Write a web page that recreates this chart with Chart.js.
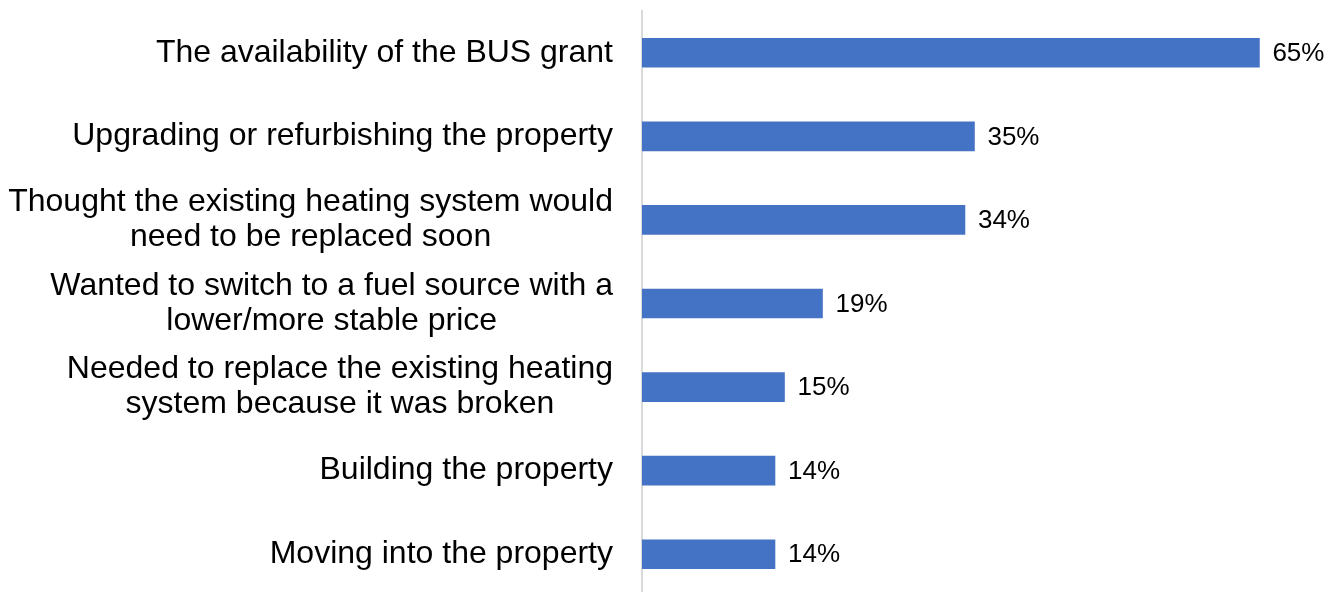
<!DOCTYPE html>
<html>
<head>
<meta charset="utf-8">
<script src="https://cdn.jsdelivr.net/npm/chart.js@4"></script>
<style>
  html, body { margin: 0; padding: 0; background: #fff; overflow: hidden; }
  #wrap { width: 1343px; height: 596px; position: relative; }
</style>
</head>
<body>
<div id="wrap"><canvas id="reasonsChart"></canvas></div>
<script>
// motivations for installing, share of respondents (%)
const categories = [
    'The availability of the BUS grant',
    'Upgrading or refurbishing the property',
    ['Thought the existing heating system would', 'need to be replaced soon'],
    ['Wanted to switch to a fuel source with a', 'lower/more stable price'],
    ['Needed to replace the existing heating', 'system because it was broken'],
    'Building the property',
    'Moving into the property'
];
const shares = [65, 35, 34, 19, 15, 14, 14];

const FONT = "'Liberation Sans', Arial, sans-serif";
const LABEL_SIZE = 32;
const LABEL_LINE = 35;
const LABEL_RIGHT = 613;

// category labels: block right-aligned to the axis, lines centred inside the block
const categoryLabels = {
    id: 'categoryLabels',
    afterDraw(chart) {
        const ctx = chart.ctx;
        const yScale = chart.scales.y;
        ctx.save();
        ctx.font = LABEL_SIZE + 'px ' + FONT;
        ctx.fillStyle = '#000';
        ctx.textAlign = 'center';
        ctx.textBaseline = 'middle';
        categories.forEach((cat, i) => {
            const lines = Array.isArray(cat) ? cat : [cat];
            const w = Math.max(...lines.map(l => ctx.measureText(l).width));
            const cx = LABEL_RIGHT - w / 2;
            const cy = yScale.getPixelForTick(i);
            lines.forEach((l, j) => {
                ctx.fillText(l, cx, cy + (j - (lines.length - 1) / 2) * LABEL_LINE);
            });
        });
        ctx.restore();
    }
};

// value labels at the end of each bar
const barValueLabels = {
    id: 'barValueLabels',
    afterDatasetsDraw(chart) {
        const ctx = chart.ctx;
        const meta = chart.getDatasetMeta(0);
        ctx.save();
        ctx.font = '26px ' + FONT;
        ctx.fillStyle = '#000';
        ctx.textAlign = 'left';
        ctx.textBaseline = 'middle';
        meta.data.forEach((bar, i) => {
            ctx.fillText(shares[i] + '%', bar.x + 13, bar.y + 1);
        });
        ctx.restore();
    }
};

const ctx = document.getElementById('reasonsChart').getContext('2d');
new Chart(ctx, {
    type: 'bar',
    data: {
        labels: categories,
        datasets: [{
            data: shares,
            backgroundColor: '#4472C4',
            borderWidth: 0,
            barThickness: 29
        }]
    },
    options: {
        indexAxis: 'y',
        responsive: true,
        maintainAspectRatio: false,
        animation: false,
        layout: { padding: { top: 11, right: 0, bottom: 0, left: 0 } },
        plugins: {
            legend: { display: false },
            tooltip: { enabled: false }
        },
        scales: {
            x: {
                min: 0,
                max: 73.8,
                display: false
            },
            y: {
                afterFit(scale) {
                    // fixed label column; labels sit inside their bands so no extra room above/below
                    scale.width = 642;
                    scale.paddingTop = 0;
                    scale.paddingBottom = 0;
                },
                grid: { display: false, drawTicks: false },
                border: { display: true, color: '#d9d9d9', width: 2 },
                ticks: {
                    // drawn by categoryLabels instead
                    color: 'rgba(0,0,0,0)',
                    padding: 29,
                    font: { family: FONT, size: LABEL_SIZE, lineHeight: 1.1 }
                }
            }
        }
    },
    plugins: [barValueLabels, categoryLabels]
});
</script>
</body>
</html>
